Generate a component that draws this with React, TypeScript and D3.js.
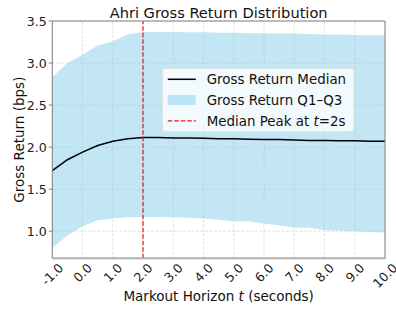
import React, { useEffect, useRef } from "react";
import * as d3 from "d3";

// markout horizon (seconds)
const horizons = [-1, -0.5, 0, 0.5, 1, 1.5, 2, 2.5, 3, 3.5, 4, 4.5, 5, 5.5, 6, 6.5, 7, 7.5, 8, 8.5, 9, 9.5, 10];
const median = [1.72, 1.85, 1.94, 2.02, 2.07, 2.1, 2.115, 2.115, 2.11, 2.11, 2.105, 2.1, 2.1, 2.095, 2.09, 2.09, 2.085, 2.08, 2.08, 2.075, 2.075, 2.07, 2.07];
const q3 = [2.83, 3.0, 3.1, 3.21, 3.26, 3.34, 3.37, 3.37, 3.37, 3.365, 3.365, 3.36, 3.36, 3.355, 3.355, 3.35, 3.35, 3.345, 3.34, 3.34, 3.335, 3.33, 3.33];
const q1 = [0.8, 0.95, 1.06, 1.13, 1.15, 1.165, 1.17, 1.17, 1.165, 1.16, 1.15, 1.135, 1.12, 1.12, 1.09, 1.07, 1.045, 1.04, 1.015, 1.005, 1.0, 0.99, 0.985];
const xTicks = [-1, 0, 1, 2, 3, 4, 5, 6, 7, 8, 9, 10];
const yTicks = [1.0, 1.5, 2.0, 2.5, 3.0, 3.5];
const peakT = 2;
const legendLabels = ["Gross Return Median", "Gross Return Q1\u2013Q3", "Median Peak at "];

export default function App() {
  const ref = useRef<SVGSVGElement>(null);

  useEffect(() => {
    const svg = d3.select(ref.current);
    svg.selectAll("*").remove();

    const width = 396;
    const height = 312;
    const margin = { left: 52.3, right: 11, top: 21, bottom: 53.7 };
    const font = "DejaVu Sans, sans-serif";
    const fmt = (d: number) => d.toFixed(1);

    const x = d3.scaleLinear().domain([-1, 10]).range([margin.left, width - margin.right]);
    const y = d3.scaleLinear().domain([0.678, 3.5]).range([height - margin.bottom, margin.top]);

    const data = horizons.map((t, i) => ({ t, m: median[i], lo: q1[i], hi: q3[i] }));

    // grid
    const grid = svg.append("g").attr("stroke", "#cfcfcf").attr("stroke-width", 0.7).attr("stroke-dasharray", "2.5,2");
    grid.selectAll("line.gx").data(xTicks).enter().append("line")
      .attr("x1", (d) => x(d)).attr("x2", (d) => x(d))
      .attr("y1", y.range()[0]).attr("y2", y.range()[1]);
    grid.selectAll("line.gy").data(yTicks).enter().append("line")
      .attr("y1", (d) => y(d)).attr("y2", (d) => y(d))
      .attr("x1", x.range()[0]).attr("x2", x.range()[1]);

    // IQR band
    const area = d3.area<any>().x((d) => x(d.t)).y0((d) => y(d.lo)).y1((d) => y(d.hi));
    svg.append("path").datum(data).attr("d", area).attr("fill", "skyblue").attr("fill-opacity", 0.5);

    // median line
    const line = d3.line<any>().x((d) => x(d.t)).y((d) => y(d.m));
    svg.append("path").datum(data).attr("d", line).attr("fill", "none").attr("stroke", "black").attr("stroke-width", 1.5);

    // peak marker
    svg.append("line")
      .attr("x1", x(peakT)).attr("x2", x(peakT))
      .attr("y1", y.range()[0]).attr("y2", y.range()[1])
      .attr("stroke", "#e8141c").attr("stroke-width", 1.2).attr("stroke-dasharray", "4.5,2");

    // spines
    const [x0, x1] = x.range();
    const [yb, yt] = y.range();
    svg.append("line").attr("x1", x0).attr("x2", x1).attr("y1", yt).attr("y2", yt).attr("stroke", "#808080").attr("stroke-width", 1);
    svg.append("line").attr("x1", x1).attr("x2", x1).attr("y1", yt).attr("y2", yb).attr("stroke", "#808080").attr("stroke-width", 1);
    svg.append("line").attr("x1", x0).attr("x2", x0).attr("y1", yt).attr("y2", yb).attr("stroke", "#808080").attr("stroke-width", 1);
    svg.append("line").attr("x1", x0 - 0.5).attr("x2", x1 + 0.5).attr("y1", yb).attr("y2", yb).attr("stroke", "#b0b0b0").attr("stroke-width", 2);

    // y ticks
    const yAxis = svg.append("g").attr("font-family", font).attr("font-size", 12.6).attr("fill", "#222");
    yAxis.selectAll("line").data(yTicks).enter().append("line")
      .attr("x1", x0 - 3.5).attr("x2", x0).attr("y1", (d) => y(d)).attr("y2", (d) => y(d))
      .attr("stroke", "#808080");
    yAxis.selectAll("text").data(yTicks).enter().append("text")
      .attr("x", x0 - 5.5).attr("y", (d) => y(d)).attr("dy", "0.36em")
      .attr("text-anchor", "end").text((d) => fmt(d));

    // x ticks, rotated 45deg, centred under tick
    const xAxis = svg.append("g").attr("font-family", font).attr("font-size", 12.6).attr("fill", "#222");
    const labels = xAxis.selectAll("text").data(xTicks).enter().append("text")
      .attr("text-anchor", "middle").attr("dy", "0.36em").text((d) => fmt(d));
    labels.each(function (d) {
      const el = this as SVGTextElement;
      const w = el.getComputedTextLength();
      const h = 9.5;
      const bh = (w + h) * Math.SQRT1_2;
      el.setAttribute("transform", `translate(${x(d)},${yb + 4 + bh / 2}) rotate(-45)`);
    });

    // titles
    svg.append("text").attr("x", (x0 + x1) / 2).attr("y", 18).attr("text-anchor", "middle")
      .attr("font-family", font).attr("font-size", 14.6).attr("fill", "#111").text("Ahri Gross Return Distribution");

    const xl = svg.append("text").attr("x", (x0 + x1) / 2).attr("y", 301).attr("text-anchor", "middle")
      .attr("font-family", font).attr("font-size", 13.5).attr("fill", "#111");
    xl.append("tspan").text("Markout Horizon ");
    xl.append("tspan").attr("font-style", "italic").text("t");
    xl.append("tspan").text(" (seconds)");

    svg.append("text").attr("transform", `translate(24,${(yt + yb) / 2}) rotate(-90)`).attr("text-anchor", "middle")
      .attr("font-family", font).attr("font-size", 13.5).attr("fill", "#111").text("Gross Return (bps)");

    // legend
    const lg = svg.append("g").attr("transform", "translate(162.3,68.3)");
    lg.append("rect").attr("width", 191.7).attr("height", 63.4).attr("rx", 3)
      .attr("fill", "white").attr("fill-opacity", 0.8).attr("stroke", "#dcdcdc").attr("stroke-width", 0.8);
    const rowY = [11, 31.7, 52.5];
    lg.append("line").attr("x1", 5.5).attr("x2", 33.5).attr("y1", rowY[0]).attr("y2", rowY[0]).attr("stroke", "black").attr("stroke-width", 1.5);
    lg.append("rect").attr("x", 5.5).attr("y", rowY[1] - 5).attr("width", 28).attr("height", 10).attr("fill", "skyblue").attr("fill-opacity", 0.5);
    lg.append("line").attr("x1", 5.5).attr("x2", 33.5).attr("y1", rowY[2]).attr("y2", rowY[2]).attr("stroke", "#e8141c").attr("stroke-width", 1.2).attr("stroke-dasharray", "4.5,2");
    const lt = lg.append("g").attr("font-family", font).attr("font-size", 13.4).attr("fill", "#111");
    lt.selectAll("text").data(legendLabels).enter().append("text")
      .attr("x", 44.4).attr("y", (d, i) => rowY[i]).attr("dy", "0.36em").text((d) => d);
    const last = lt.select("text:last-child");
    last.append("tspan").attr("font-style", "italic").text("t");
    last.append("tspan").text("=2s");
  }, []);

  return (
    <svg ref={ref} width={396} height={312} style={{ position: "absolute", left: 0, top: 0 }} />
  );
}
